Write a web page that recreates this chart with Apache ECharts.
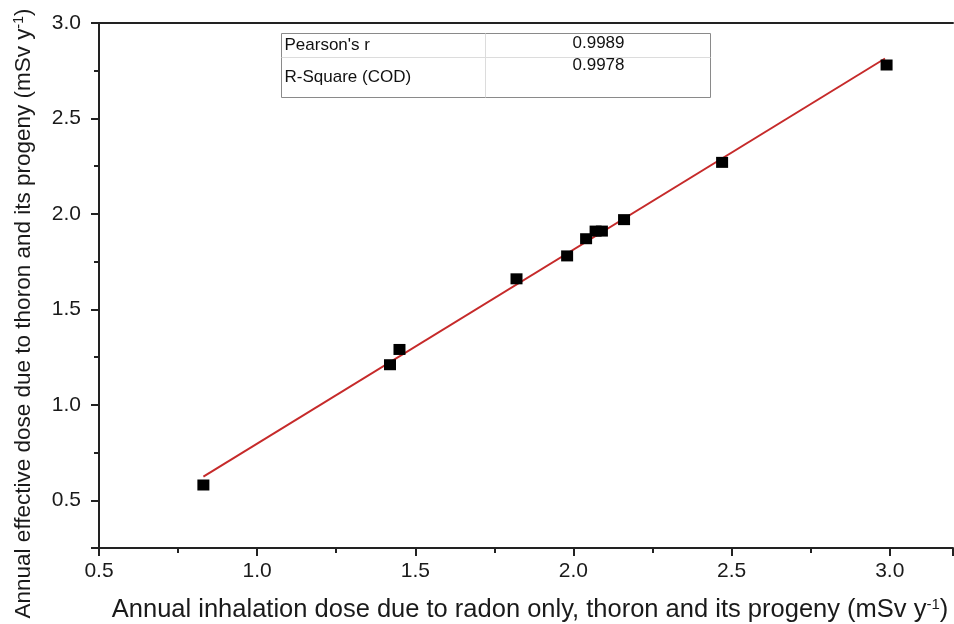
<!DOCTYPE html>
<html>
<head>
<meta charset="utf-8">
<script src="https://cdn.jsdelivr.net/npm/echarts@6/dist/echarts.min.js"></script>
<style>
  html, body { margin: 0; padding: 0; background: #fff; }
  #main { width: 954px; height: 624px; }
</style>
</head>
<body>
<div id="main"></div>
<script>
// measured points (x: radon only + thoron + progeny, y: thoron + progeny)
const doseX = [0.83, 1.42, 1.45, 1.82, 1.98, 2.04, 2.07, 2.09, 2.16, 2.47, 2.99]
const doseY = [0.58, 1.21, 1.29, 1.66, 1.78, 1.87, 1.91, 1.91, 1.97, 2.27, 2.78]
// linear fit, read from the two ends of the red line
const fitX = [0.83, 2.985]
const fitY = [0.624, 2.814]
const statNames = ["Pearson's r", 'R-Square (COD)']
const statValues = ['0.9989', '0.9978']

const FONT = '"Liberation Sans", Arial, sans-serif'
const points = doseX.map((x, i) => [x, doseY[i]])
const fit = fitX.map((x, i) => [x, fitY[i]])

const chart = echarts.init(document.getElementById('main'))

const axisCommon = {
  type: 'value',
  splitNumber: 5,
  axisLine: { show: true, lineStyle: { color: '#222', width: 2 } },
  axisTick: { show: true, length: 8, lineStyle: { color: '#222', width: 2 } },
  minorTick: { show: true, splitNumber: 2, length: 5, lineStyle: { color: '#222', width: 2 } },
  splitLine: { show: false },
  axisLabel: {
    color: '#1a1a1a', fontFamily: FONT, fontSize: 21,
    formatter: v => v.toFixed(1)
  },
  nameLocation: 'middle'
}

const nameStyle = (size, padding) => ({
  color: '#1a1a1a', fontFamily: FONT, fontSize: size, padding: padding,
  rich: { sup: { fontSize: Math.round(size * 0.6), verticalAlign: 'top', fontFamily: FONT, color: '#1a1a1a' } }
})

const option = {
  backgroundColor: '#fff',
  animation: false,
  grid: { left: 99, top: 23, right: 1, bottom: 76, outerBoundsMode: 'none', containLabel: false },
  xAxis: [
    Object.assign({}, axisCommon, {
      min: 0.5, max: 3.2,
      name: 'Annual inhalation dose due to radon only, thoron and its progeny (mSv y{sup|-1})',
      nameGap: 49,
      nameTextStyle: nameStyle(25.5, [0, 0, 0, 8]),
      axisLabel: Object.assign({}, axisCommon.axisLabel, { margin: 13, showMaxLabel: false })
    }),
    {
      type: 'value', position: 'top', min: 0.5, max: 3.2,
      axisLine: { show: true, lineStyle: { color: '#222', width: 2 } },
      axisTick: { show: false }, axisLabel: { show: false }, splitLine: { show: false }
    }
  ],
  yAxis: Object.assign({}, axisCommon, {
    min: 0.25, max: 3.0,
    name: 'Annual effective dose due to thoron and its progeny (mSv y{sup|-1})',
    nameGap: 64,
    nameTextStyle: nameStyle(22.5, [0, 56, 0, 0]),
    axisLabel: Object.assign({}, axisCommon.axisLabel, { margin: 18, showMinLabel: false })
  }),
  series: [
    {
      type: 'line',
      data: fit,
      symbol: 'none',
      lineStyle: { color: '#c62a2a', width: 2 },
      z: 2
    },
    {
      type: 'scatter',
      data: points,
      symbol: 'rect',
      symbolSize: [12, 11],
      itemStyle: { color: '#000', opacity: 1 },
      z: 3
    }
  ],
  graphic: [
    {
      type: 'group', left: 279, top: 31, z: 10,
      children: [
        { type: 'rect', shape: { x: 0, y: 0, width: 429, height: 64 }, style: { fill: '#fff', stroke: '#8a8a8a', lineWidth: 1 } },
        { type: 'line', shape: { x1: 0, y1: 24, x2: 429, y2: 24 }, style: { stroke: '#dcdcdc', lineWidth: 1 } },
        { type: 'line', shape: { x1: 204, y1: 0, x2: 204, y2: 64 }, style: { stroke: '#dcdcdc', lineWidth: 1 } },
        { type: 'text', x: 3, y: 12, style: { text: statNames[0], fontFamily: FONT, fontSize: 17, fill: '#111', verticalAlign: 'middle' } },
        { type: 'text', x: 3, y: 44, style: { text: statNames[1], fontFamily: FONT, fontSize: 17, fill: '#111', verticalAlign: 'middle' } },
        { type: 'text', x: 317, y: 10, style: { text: statValues[0], fontFamily: FONT, fontSize: 17, fill: '#111', align: 'center', verticalAlign: 'middle' } },
        { type: 'text', x: 317, y: 32, style: { text: statValues[1], fontFamily: FONT, fontSize: 17, fill: '#111', align: 'center', verticalAlign: 'middle' } }
      ]
    }
  ]
}

chart.setOption(option)
</script>
</body>
</html>
